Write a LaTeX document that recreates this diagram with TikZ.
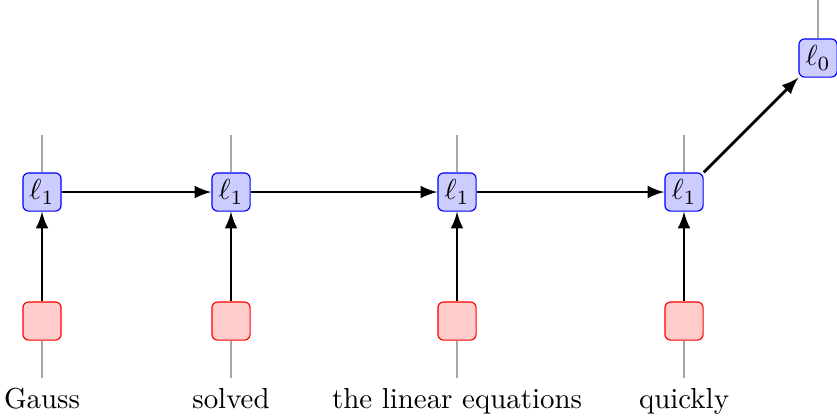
\documentclass[tikz,border=0pt]{standalone}
\usetikzlibrary{arrows}
\begin{document}
\begin{tikzpicture}[x=0.346pt,y=-0.346pt,
  lab/.style={draw=blue,fill=blue!20,rounded corners=2pt,minimum size=13.2pt,inner sep=0pt,line width=0.4pt},
  emb/.style={draw=red,fill=red!20,rounded corners=2pt,minimum size=13.2pt,inner sep=0pt,line width=0.4pt},
  word/.style={anchor=base,inner sep=0pt},
  link/.style={-latex,line width=1pt},
  stub/.style={gray!70,line width=0.4pt}]
\useasboundingbox (0,0) rectangle (837,416);
% per-word columns: embedding box, label box, word
\foreach \i/\x/\w in {1/42/Gauss,2/231/solved,3/457/the linear equations,4/684/quickly}{
  \node[emb] (e\i) at (\x,321) {};
  \node[lab] (l\i) at (\x,192) {$\ell_1$};
  \node[word] (w\i) at (\x,408) {\w};
  \coordinate (t\i) at (\x,135);
  \coordinate (b\i) at (\x,378);
  \draw[stub] (l\i.north) -- (t\i);
  \draw[stub] (e\i.south) -- (b\i);
  \draw[link] (e\i) -- (l\i);
}
\node[lab] (l0) at (818,58) {$\ell_0$};
\coordinate (t0) at (818,0);
\draw[stub] (l0.north) -- (t0);
\draw[link] (l1) -- (l2);
\draw[link] (l2) -- (l3);
\draw[link] (l3) -- (l4);
\draw[link] (l4) -- (l0);
\end{tikzpicture}
\end{document}
